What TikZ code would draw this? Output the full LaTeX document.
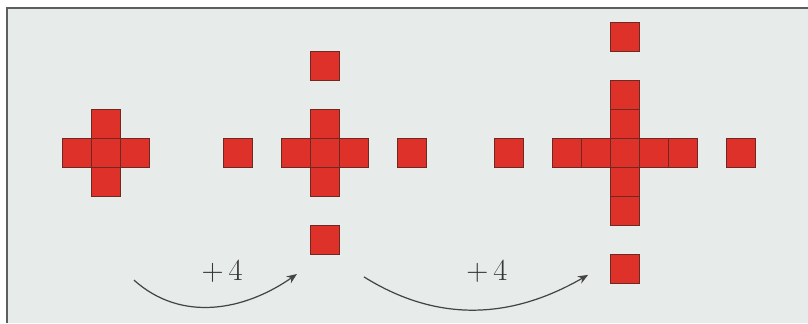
\documentclass[tikz,border=0pt]{standalone}
\usepackage{xcolor}
\usepackage{tikz}
\usetikzlibrary{calc,arrows.meta}
\definecolor{mPaper}{HTML}{E7EBEA}
\definecolor{mFrame}{HTML}{5A5E5C}
\definecolor{mCellRed}{HTML}{DD3129}
\definecolor{mCellEdge}{HTML}{6E2A22}
\definecolor{mArrow}{HTML}{444444}
\begin{document}
\begin{tikzpicture}[x=0.5cm,y=0.5cm,
  cell/.style={draw=mCellEdge, fill=mCellRed, line width=0.5pt, minimum size=0.5cm, inner sep=0pt},
  hop/.style={-{Stealth[length=5pt,width=4pt]}, mArrow, line width=0.6pt},
  steplabel/.style={font=\fontsize{15}{18}\selectfont, text=mArrow!80!black}]
\useasboundingbox (0,0) rectangle (27.862,11.138);
% paper and frame
\fill[white] (0,0) rectangle (27.862,11.138);
\fill[mPaper] (0.24,0) rectangle (27.862,10.86);
\draw[mFrame, line width=1.1pt] (0.24,0) |- (27.862,10.86);
% figure 1
\node[cell] (oneC) at (3.64,5.85) {};
\foreach \dx/\dy/\n in {1/0/E,-1/0/W,0/1/N,0/-1/S}
  \node[cell] (one\n) at ($(oneC)+(\dx,\dy)$) {};
% figure 2: cross plus four new cells
\node[cell] (twoC) at (11.22,5.85) {};
\foreach \dx/\dy/\n in {1/0/E,-1/0/W,0/1/N,0/-1/S}
  \node[cell] (two\n) at ($(twoC)+(\dx,\dy)$) {};
\foreach \dx/\dy/\n in {3/0/E,-3/0/W,0/3/N,0/-3/S}
  \node[cell] (twoNew\n) at ($(twoC)+(\dx,\dy)$) {};
% figure 3
\node[cell] (threeC) at (21.55,5.85) {};
\foreach \dx/\dy/\n in {1/0/E,-1/0/W,0/1/N,0/-1/S,2/0/EE,-2/0/WW,0/2/NN,0/-2/SS}
  \node[cell] (three\n) at ($(threeC)+(\dx,\dy)$) {};
\foreach \dx/\dy/\n in {4/0/E,-4/0/W,0/4/N,0/-4/S}
  \node[cell] (threeNew\n) at ($(threeC)+(\dx,\dy)$) {};
% step arrows
\coordinate (hopAs) at (4.62,1.48);
\coordinate (hopAe) at (10.24,1.69);
\coordinate (hopBs) at (12.55,1.59);
\coordinate (hopBe) at (20.28,1.66);
\draw[hop] (hopAs) to[out=-42,in=-145] (hopAe);
\draw[hop] (hopBs) to[out=-32,in=-150] (hopBe);
\node[steplabel] (labA) at (7.66,1.78) {+\,4};
\node[steplabel] (labB) at (16.79,1.78) {+\,4};
\end{tikzpicture}
\end{document}
